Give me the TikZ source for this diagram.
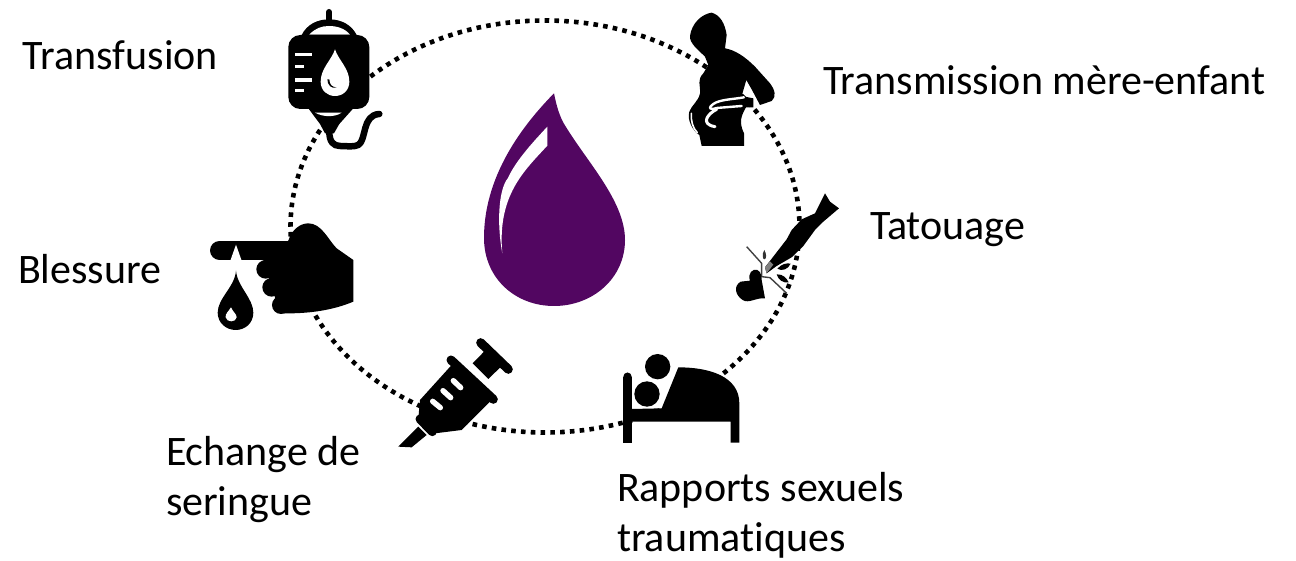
\documentclass[tikz,border=0pt]{standalone}
\usepackage{fontspec}
\setmainfont[RawFeature={-liga}]{Carlito}
\definecolor{dropcol}{HTML}{520661}
\tikzset{
  label/.style={inner sep=0pt,outer sep=0pt,align=left,font=\fontsize{42}{50}\selectfont,text=black},
  ring/.style={line width=4.6pt,dash pattern=on 4.6pt off 5.2pt,black},
  zoomed/.style 2 args={shift={(#1pt,-#2pt)},x=0.3333pt,y=-0.3333pt},
  ink/.style={fill=black,draw=none},
  hole/.style={fill=white,draw=none},
}
\begin{document}
\begin{tikzpicture}[x=1pt,y=-1pt,line join=round]
\useasboundingbox (0,0) rectangle (1296,561);
% dotted ring
\draw[ring] (545,226.5) ellipse [x radius=254.5,y radius=206];
% central drop
\fill[dropcol] (554,93.3) .. controls (530,118) and (484,170) .. (484,238)
  .. controls (484,278) and (515,306) .. (554,306)
  .. controls (593,306) and (625,278) .. (625,240)
  .. controls (625,200) and (585,160) .. (563,122) .. controls (558,112) and (556,103) .. (554,93.3) -- cycle;
\fill[white] (547.3,126.7) -- (547.3,145.7) .. controls (525,170) and (497,195) .. (502.3,253.3)
  .. controls (497,225) and (498,190) .. (508,178) .. controls (516,160) and (535,140) .. (547.3,126.7) -- cycle;
% transfusion bag
\begin{scope}[zoomed={270}{0}]
  \draw[line width=6pt,line cap=round] (177,36) -- (177,70);
  \fill[ink] (95,105) .. controls (110,75) and (140,58) .. (177,58) .. controls (215,58) and (245,75) .. (260,105) -- cycle;
  \fill[hole] (118,104) .. controls (135,85) and (155,78) .. (177,78) .. controls (200,78) and (225,85) .. (240,104) -- cycle;
  \fill[ink,rounded corners=12pt] (55,105) rectangle (298,327);
  \fill[ink] (115,325) -- (150,372) -- (165,400) -- (192,400) -- (208,372) -- (250,325) -- cycle;
  \fill[hole] (135,338) .. controls (160,352) and (195,352) .. (215,338) -- cycle;
  \draw[line width=6.5pt,line cap=round] (178,395) .. controls (178,425) and (190,438) .. (210,438)
    .. controls (230,438) and (250,442) .. (265,435) .. controls (290,420) and (275,345) .. (328,342);
  \foreach \a/\b/\c in {75/125/163,75/103/200,75/125/240,75/103/272}
    \draw[white,line width=3.2pt] (\a,\c) -- (\b,\c);
  \fill[hole] (195,148) .. controls (185,180) and (152,205) .. (152,245)
    .. controls (152,272) and (172,288) .. (195,288) .. controls (220,288) and (238,270) .. (238,245)
    .. controls (238,205) and (205,180) .. (195,148) -- cycle;
  \fill[ink] (172,238) .. controls (172,255) and (185,268) .. (200,262) .. controls (188,262) and (178,255) .. (178,238) -- cycle;
\end{scope}
% pregnant woman
\begin{scope}[zoomed={670}{0}]
  \fill[ink] (60,108) .. controls (65,70) and (95,42) .. (125,38) .. controls (150,45) and (165,70) .. (170,105)
    -- (165,145) .. controls (195,150) and (225,170) .. (255,200) -- (300,250)
    .. controls (315,270) and (320,290) .. (305,303) -- (270,315) -- (245,268) -- (229,240) -- (215,288)
    -- (250,295) -- (250,322) -- (228,322) .. controls (215,345) and (205,365) .. (222,400) -- (222,438) -- (95,438)
    -- (88,405) .. controls (70,395) and (50,360) .. (58,335) .. controls (65,315) and (85,305) .. (90,280)
    .. controls (92,255) and (80,240) .. (100,220) -- (115,195) -- (105,170) .. controls (85,150) and (58,130) .. (60,108) -- cycle;
  \draw[white,line width=2.4pt,line cap=round] (222,292) .. controls (190,298) and (150,298) .. (130,312)
    .. controls (115,322) and (115,332) .. (140,324) -- (215,318);
  \draw[white,line width=3pt,line cap=round] (140,328) .. controls (115,340) and (88,372) .. (135,380);
  \draw[white,line width=1.6pt,line cap=round] (64,340) .. controls (62,360) and (68,385) .. (82,398);
\end{scope}
% tattoo needle
\begin{scope}[zoomed={720}{180}]
  \fill[ink] (135,262) -- (200,178) -- (215,150) -- (245,118) -- (285,100) -- (300,70) -- (315,40) -- (330,65) -- (357,85)
    -- (310,125) -- (285,150) -- (250,198) -- (215,232) -- (170,258) -- (140,280) -- cycle;
  \fill[gray] (135,262) -- (150,244) -- (160,254) -- (140,280) -- cycle;
  \draw[line width=1.4pt,black!75] (80,200) -- (125,250) -- (125,290) -- (150,293) -- (200,340);
  \fill[black!80] (133,210) .. controls (125,222) and (128,240) .. (134,238) .. controls (140,235) and (140,222) .. (133,210) -- cycle;
  \fill[ink] (172,266) .. controls (185,252) and (200,248) .. (212,251) .. controls (205,268) and (185,275) .. (172,266) -- cycle;
  \fill[ink] (170,283) .. controls (190,282) and (200,295) .. (206,307) .. controls (190,310) and (175,300) .. (170,283) -- cycle;
  \fill[ink] (135,355) .. controls (110,352) and (85,372) .. (68,360) .. controls (45,345) and (40,318) .. (62,305)
    -- (90,302) .. controls (82,280) and (98,265) .. (112,270) .. controls (125,275) and (125,295) .. (125,300) -- cycle;
\end{scope}
% bed
\begin{scope}[zoomed={610}{340}]
  \fill[ink] (40,110) rectangle (65,308);
  \fill[ink] (52.5,110) circle [radius=12.5];
  \fill[ink] (65,207) -- (155,205) -- (205,82) .. controls (300,82) and (388,110) .. (388,190)
    -- (388,308) -- (362,308) -- (362,245) -- (65,245) -- cycle;
  \fill[ink] (143,80) circle [radius=38];
  \fill[ink] (111,162) circle [radius=38];
\end{scope}
% syringe
\begin{scope}[zoomed={390}{330}]
  \fill[ink] (25,350) -- (85,290) -- (110,315) -- (65,352) -- cycle;
  \fill[ink] (90,210) -- (185,105) -- (305,210) -- (215,300) -- (135,310) -- (85,265) -- cycle;
  \draw[line width=9pt,line cap=round] (183,90) -- (310,208);
  \draw[line width=9pt,line cap=round] (90,267) -- (127,305);
  \fill[ink] (248,100) -- (285,62) -- (335,108) -- (295,147) -- cycle;
  \draw[line width=9pt,line cap=round] (272,38) -- (355,118);
  \draw[white,line width=5.4pt,line cap=round] (190,152) -- (212,173);
  \draw[white,line width=5.4pt,line cap=round] (159,182) -- (182,203);
  \draw[white,line width=5.4pt,line cap=round] (128,214) -- (151,233);
\end{scope}
% hand
\begin{scope}[zoomed={200}{210}]
  \draw[line width=19.3pt,line cap=round] (59,121) -- (290,121);
  \fill[ink] (265,92) .. controls (275,60) and (300,40) .. (325,40) .. controls (365,40) and (385,90) .. (410,115)
    -- (460,150) -- (460,275) .. controls (400,300) and (330,312) .. (240,310) -- (190,150) -- cycle;
  \fill[ink] (197,178) circle [radius=28];
  \fill[ink] (215,232) circle [radius=28];
  \fill[ink] (243,285) circle [radius=27];
  \fill[hole] (108,104) -- (125,152) -- (91,152) -- cycle;
  \fill[ink] (108,182) .. controls (105,230) and (53,265) .. (53,308) .. controls (53,340) and (80,360) .. (107,360)
    .. controls (135,360) and (160,340) .. (160,308) .. controls (160,265) and (112,230) .. (108,182) -- cycle;
  \fill[hole] (93,292) .. controls (85,305) and (75,312) .. (77,322) .. controls (80,338) and (108,338) .. (110,322)
    .. controls (110,312) and (98,305) .. (93,292) -- cycle;
\end{scope}
% labels
\node[label,anchor=base west] (l1) at (23,70) {Transfusion};
\node[label,anchor=base west] (l2) at (823,95) {Transmission mère-enfant};
\node[label,anchor=base west] (l3) at (870,240) {Tatouage};
\node[label,anchor=base west] (l4) at (18,284) {Blessure};
\node[label,anchor=west] (l5) at (166,480) {Echange de\\seringue};
\node[label,anchor=west] (l6) at (617,515) {Rapports sexuels\\traumatiques};
\end{tikzpicture}
\end{document}
